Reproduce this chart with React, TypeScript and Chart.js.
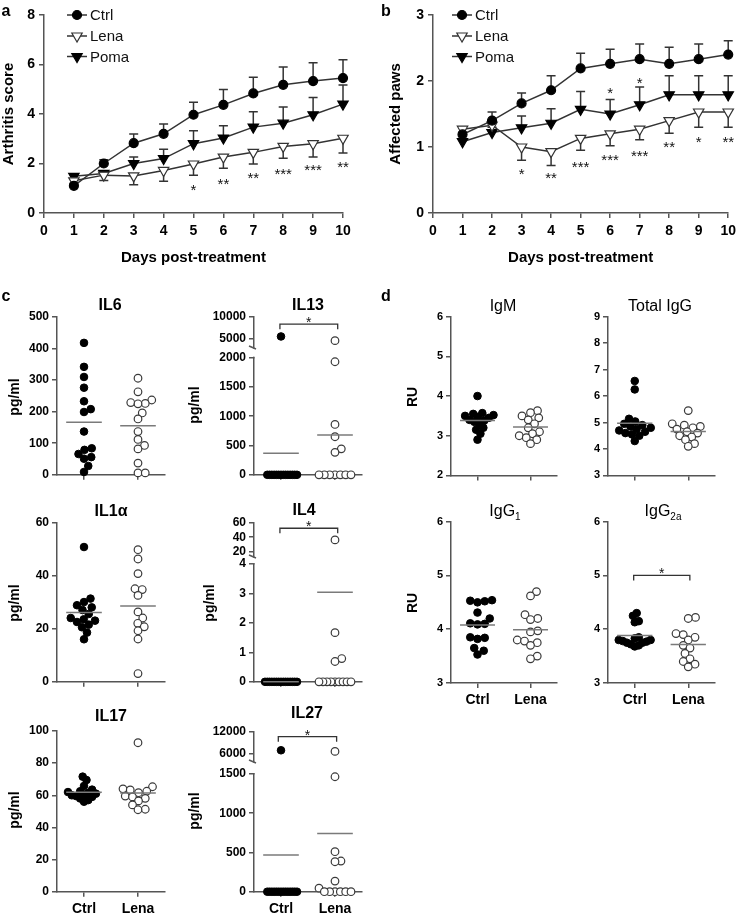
import React, { useEffect, useRef } from 'react';
import { Chart, registerables } from 'chart.js';
Chart.register(...registerables);

const FONT = '"Liberation Sans", Arial, Helvetica, sans-serif';
const AXIS = '#555555';
const LINE = '#333333';

// ---------------- Panel a / b data ----------------
const days = [1, 2, 3, 4, 5, 6, 7, 8, 9, 10];
const dayTicks = [0, 1, 2, 3, 4, 5, 6, 7, 8, 9, 10];

const aTicks = [0, 2, 4, 6, 8];
const aCtrl = [1.1, 2.0, 2.82, 3.2, 3.97, 4.37, 4.83, 5.18, 5.33, 5.45];
const aCtrlErr = [0.06, 0.15, 0.37, 0.4, 0.5, 0.62, 0.65, 0.72, 0.74, 0.74];
const aLena = [1.3, 1.53, 1.5, 1.72, 1.98, 2.26, 2.45, 2.69, 2.8, 3.02];
const aLenaErr = [0.1, 0.22, 0.36, 0.44, 0.45, 0.45, 0.47, 0.48, 0.54, 0.6];
const aPoma = [1.48, 1.6, 2.0, 2.2, 2.8, 3.03, 3.47, 3.63, 3.97, 4.4];
const aPomaErr = [0.08, 0.1, 0.26, 0.38, 0.52, 0.5, 0.62, 0.65, 0.7, 0.77];
const aStarText = ['', '', '', '', '*', '**', '**', '***', '***', '**'];
const aStarY = [0, 0, 0, 0, 1.09, 1.33, 1.54, 1.7, 1.86, 2.02];

const bTicks = [0, 1, 2, 3];
const bCtrl = [1.19, 1.4, 1.66, 1.86, 2.19, 2.26, 2.33, 2.26, 2.33, 2.4];
const bCtrlErr = [0.1, 0.13, 0.16, 0.22, 0.23, 0.22, 0.23, 0.25, 0.23, 0.21];
const bLena = [1.27, 1.33, 1.0, 0.93, 1.13, 1.2, 1.27, 1.4, 1.53, 1.53];
const bLenaErr = [0.05, 0.07, 0.2, 0.21, 0.18, 0.18, 0.16, 0.19, 0.23, 0.23];
const bPoma = [1.08, 1.22, 1.29, 1.36, 1.57, 1.5, 1.64, 1.79, 1.79, 1.79];
const bPomaErr = [0.05, 0.08, 0.18, 0.22, 0.27, 0.22, 0.27, 0.29, 0.29, 0.29];
const bStarText = ['', '', '*', '**', '***', '***', '***', '**', '*', '**'];
const bStarY = [0, 0, 0.64, 0.58, 0.75, 0.86, 0.92, 1.05, 1.13, 1.13];
const bPomaStarText = ['', '', '', '', '', '*', '*', '', '', ''];
const bPomaStarY = [0, 0, 0, 0, 0, 1.87, 2.03, 0, 0, 0];

const seriesNames = ['Ctrl', 'Lena', 'Poma'];
const groupNames = ['Ctrl', 'Lena'];

// ---------------- Panel c data (pg/ml) ----------------
const il6Ticks = [0, 100, 200, 300, 400, 500];
const il6Ctrl = [418, 342, 310, 276, 233, 208, 199, 137, 84, 79, 66, 56, 51, 28, 9];
const il6Lena = [306, 263, 237, 229, 226, 225, 196, 177, 137, 112, 93, 82, 37, 6, 6];

const il13LowTicks = [0, 500, 1000, 1500, 2000];
const il13HighTicks = [5000, 10000];
const il13Ctrl = [5500, 0, 0, 0, 0, 0, 0, 0, 0, 0, 0, 0, 0, 0, 0];
const il13Lena = [4550, 1930, 860, 650, 443, 383, 0, 0, 0, 0, 0, 0, 0];

const il1aTicks = [0, 20, 40, 60];
const il1aCtrl = [50.7, 31.3, 30, 28.8, 28, 27, 25.5, 24, 23.5, 23, 22.5, 21.5, 20.5, 18.5, 16];
const il1aLena = [49.7, 46.2, 40.7, 35, 34.7, 32.5, 26.3, 24, 22, 20.7, 19.2, 16.1, 3.1];

const il4LowTicks = [0, 1, 2, 3, 4];
const il4HighTicks = [20, 40, 60];
const il4Ctrl = [0, 0, 0, 0, 0, 0, 0, 0, 0, 0, 0, 0, 0, 0, 0];
const il4Lena = [36.4, 1.67, 0.79, 0.69, 0, 0, 0, 0, 0, 0, 0, 0, 0];

const il17Ticks = [0, 20, 40, 60, 80, 100];
const il17Ctrl = [71.6, 69.5, 65.8, 63.5, 62.5, 62, 61.5, 61, 60.5, 60, 59.5, 59, 58, 57, 56];
const il17Lena = [92.7, 65.3, 64, 63.3, 62.5, 61.6, 59.5, 59, 58.1, 56.5, 54, 51.3, 51];

const il27LowTicks = [0, 500, 1000, 1500];
const il27HighTicks = [6000, 12000];
const il27Ctrl = [7000, 0, 0, 0, 0, 0, 0, 0, 0, 0, 0, 0, 0, 0, 0];
const il27Lena = [6700, 1465, 510, 391, 382, 135, 45, 0, 0, 0, 0, 0, 0];

// ---------------- Panel d data (RU) ----------------
const igmTicks = [2, 3, 4, 5, 6];
const igmCtrl = [4.0, 3.57, 3.55, 3.52, 3.5, 3.48, 3.45, 3.4, 3.38, 3.35, 3.3, 3.2, 3.15, 3.05, 2.9];
const igmLena = [3.63, 3.58, 3.5, 3.45, 3.4, 3.3, 3.2, 3.1, 3.05, 3.0, 2.95, 2.9, 2.8];

const iggTicks = [3, 4, 5, 6, 7, 8, 9];
const iggCtrl = [6.57, 6.25, 5.14, 5.04, 4.95, 4.9, 4.85, 4.8, 4.75, 4.7, 4.65, 4.6, 4.55, 4.5, 4.3];
const iggLena = [5.45, 4.95, 4.9, 4.85, 4.8, 4.75, 4.65, 4.6, 4.5, 4.45, 4.35, 4.2, 4.1];

const igg1Ticks = [3, 4, 5, 6];
const igg1Ctrl = [4.54, 4.53, 4.52, 4.5, 4.31, 4.2, 4.11, 4.1, 4.09, 3.85, 3.84, 3.82, 3.65, 3.6, 3.53];
const igg1Lena = [4.7, 4.62, 4.27, 4.2, 4.18, 3.97, 3.95, 3.8, 3.78, 3.75, 3.7, 3.5, 3.45];

const igg2aTicks = [3, 4, 5, 6];
const igg2aCtrl = [4.3, 4.25, 4.15, 4.13, 3.85, 3.83, 3.8, 3.8, 3.78, 3.77, 3.75, 3.75, 3.72, 3.7, 3.68];
const igg2aLena = [4.22, 4.2, 3.92, 3.9, 3.85, 3.8, 3.7, 3.65, 3.55, 3.45, 3.4, 3.35, 3.3];

// ---------------- helpers ----------------
const bold = (size: number) => ({ family: FONT, size, weight: 'bold' as const });
const mean = (a: number[]) => a.reduce((s, v) => s + v, 0) / a.length;

function drawMarker(ctx: CanvasRenderingContext2D, shape: string, x: number, y: number, r: number, fill: string) {
  ctx.save();
  ctx.beginPath();
  if (shape === 'circle') {
    ctx.arc(x, y, r, 0, Math.PI * 2);
  } else {
    let rad = Math.PI;
    ctx.moveTo(x + Math.sin(rad) * r, y - Math.cos(rad) * r);
    rad += (2 * Math.PI) / 3;
    ctx.lineTo(x + Math.sin(rad) * r, y - Math.cos(rad) * r);
    rad += (2 * Math.PI) / 3;
    ctx.lineTo(x + Math.sin(rad) * r, y - Math.cos(rad) * r);
    ctx.closePath();
  }
  ctx.fillStyle = fill;
  ctx.fill();
  ctx.strokeStyle = fill === '#ffffff' ? '#333333' : '#000000';
  ctx.lineWidth = 1.2;
  ctx.stroke();
  ctx.restore();
}

type TextItem = { x: number; y: number; text: string; font: string; rotate?: boolean };

function decoPlugin(d: any) {
  return {
    id: 'deco',
    beforeDatasetsDraw(chart: any) {
      const ctx = chart.ctx as CanvasRenderingContext2D;
      if (d.brk) {
        const ys = chart.scales.y;
        const ax = ys.right;
        ctx.save();
        ctx.fillStyle = '#ffffff';
        ctx.fillRect(ax - 8, d.brk + 1.5, 12, ys.top - d.brk - 2.5);
        ctx.strokeStyle = AXIS;
        ctx.lineWidth = 1.5;
        ctx.beginPath();
        ctx.moveTo(ax - 5, d.brk - 1);
        ctx.lineTo(ax + 2, d.brk + 2);
        ctx.stroke();
        ctx.restore();
      }
      if (d.err) {
        const ys = chart.scales.y;
        ctx.save();
        ctx.strokeStyle = LINE;
        ctx.lineWidth = 1.5;
        for (const e of d.err) {
          const meta = chart.getDatasetMeta(e.ds);
          const vals = chart.data.datasets[e.ds].data;
          meta.data.forEach((el: any, i: number) => {
            const er = e.err[i];
            if (!er) return;
            const y1 = ys.getPixelForValue(vals[i].y + e.dir * er);
            ctx.beginPath();
            ctx.moveTo(el.x, el.y);
            ctx.lineTo(el.x, y1);
            ctx.moveTo(el.x - 4.5, y1);
            ctx.lineTo(el.x + 4.5, y1);
            ctx.stroke();
          });
        }
        ctx.restore();
      }
    },
    afterDatasetsDraw(chart: any) {
      const ctx = chart.ctx as CanvasRenderingContext2D;
      ctx.save();
      if (d.stars) {
        ctx.fillStyle = '#111';
        ctx.font = `15px ${FONT}`;
        ctx.textAlign = 'center';
        ctx.textBaseline = 'alphabetic';
        for (const s of d.stars) {
          if (!s.text) continue;
          const px = chart.scales.x.getPixelForValue(s.x);
          const py = chart.scales.y.getPixelForValue(s.y);
          ctx.fillText(s.text, px, py + 8.5);
        }
      }
      if (d.bracket) {
        const b = d.bracket;
        const py = chart.scales[b.axis].getPixelForValue(b.value);
        const x1 = chart.scales.x.getPixelForValue(b.x1);
        const x2 = chart.scales.x.getPixelForValue(b.x2);
        ctx.strokeStyle = LINE;
        ctx.lineWidth = 1.3;
        ctx.beginPath();
        ctx.moveTo(x1, py + 5);
        ctx.lineTo(x1, py);
        ctx.lineTo(x2, py);
        ctx.lineTo(x2, py + 5);
        ctx.stroke();
        ctx.fillStyle = '#111';
        ctx.font = `14px ${FONT}`;
        ctx.textAlign = 'center';
        ctx.textBaseline = 'alphabetic';
        ctx.fillText('*', (x1 + x2) / 2, py + 3);
      }
      if (d.legend) {
        const lg = d.legend;
        lg.rows.forEach((r: any) => {
          ctx.strokeStyle = LINE;
          ctx.lineWidth = 1.5;
          ctx.beginPath();
          ctx.moveTo(lg.x1, r.y);
          ctx.lineTo(lg.x2, r.y);
          ctx.stroke();
          drawMarker(ctx, r.shape, (lg.x1 + lg.x2) / 2, r.y, r.shape === 'circle' ? 4.5 : 6, r.fill);
          ctx.fillStyle = '#111';
          ctx.font = `15px ${FONT}`;
          ctx.textAlign = 'left';
          ctx.textBaseline = 'middle';
          ctx.fillText(r.label, lg.tx, r.y + 1);
        });
      }
      if (d.texts) {
        for (const t of d.texts as TextItem[]) {
          ctx.save();
          ctx.fillStyle = '#000';
          ctx.font = t.font;
          ctx.textAlign = 'center';
          ctx.textBaseline = 'middle';
          ctx.translate(t.x, t.y);
          if (t.rotate) ctx.rotate(-Math.PI / 2);
          ctx.fillText(t.text, 0, 0);
          ctx.restore();
        }
      }
      ctx.restore();
    },
  };
}

const axisGrid = { display: true, drawOnChartArea: false, drawTicks: true, tickLength: 5, color: AXIS, lineWidth: 1.5 };
const axisBorder = { display: true, color: AXIS, width: 1.5 };

// ---------------- line chart (a, b) ----------------
type Box = { left: number; top: number; width: number; height: number; aL: number; aR: number; aT: number; aB: number };

function buildLine(canvas: HTMLCanvasElement, p: any): Chart {
  const L: Box = p.box;
  const yW = L.aL - L.left;
  const xH = L.top + L.height - L.aB;
  const pts = (arr: number[]) => days.map((dd, i) => ({ x: dd, y: arr[i] }));
  const stars: any[] = [];
  p.starText.forEach((t: string, i: number) => stars.push({ x: days[i], y: p.starY[i], text: t }));
  if (p.star2Text) p.star2Text.forEach((t: string, i: number) => stars.push({ x: days[i], y: p.star2Y[i], text: t }));
  const deco = decoPlugin({
    err: [
      { ds: 0, err: p.ctrlErr, dir: 1 },
      { ds: 1, err: p.lenaErr, dir: -1 },
      { ds: 2, err: p.pomaErr, dir: 1 },
    ],
    stars,
    legend: {
      x1: p.legX1 - L.left,
      x2: p.legX2 - L.left,
      tx: p.legTx - L.left,
      rows: [
        { y: 15 - L.top, label: seriesNames[0], shape: 'circle', fill: '#000000' },
        { y: 36 - L.top, label: seriesNames[1], shape: 'tri', fill: '#ffffff' },
        { y: 56.5 - L.top, label: seriesNames[2], shape: 'tri', fill: '#000000' },
      ],
    },
  });
  const common = { borderColor: LINE, borderWidth: 1.5, tension: 0, clip: false as const, pointBorderWidth: 1.2 };
  const cfg: any = {
    type: 'line',
    data: {
      datasets: [
        { ...common, label: seriesNames[0], data: pts(p.ctrl), pointStyle: 'circle', pointRadius: 4.5, pointBackgroundColor: '#000', pointBorderColor: '#000' },
        { ...common, label: seriesNames[1], data: pts(p.lena), pointStyle: 'triangle', pointRotation: 180, pointRadius: 6, pointBackgroundColor: '#ffffff', pointBorderColor: '#333' },
        { ...common, label: seriesNames[2], data: pts(p.poma), pointStyle: 'triangle', pointRotation: 180, pointRadius: 6, pointBackgroundColor: '#000', pointBorderColor: '#000' },
      ],
    },
    options: {
      animation: false,
      responsive: false,
      devicePixelRatio: 1,
      events: [],
      layout: { padding: { left: 0, top: L.aT - L.top, right: L.left + L.width - L.aR, bottom: 0 } },
      plugins: { legend: { display: false }, tooltip: { enabled: false } },
      scales: {
        x: {
          type: 'linear',
          min: 0,
          max: 10,
          afterBuildTicks: (s: any) => { s.ticks = dayTicks.map((v) => ({ value: v })); },
          afterFit: (s: any) => { s.height = xH; },
          ticks: { callback: (v: any) => String(v), font: bold(14), color: '#000', padding: 5, autoSkip: false, maxRotation: 0 },
          grid: axisGrid,
          border: axisBorder,
          title: { display: true, text: 'Days post-treatment', font: bold(15), color: '#000', padding: { top: 0, bottom: 5 } },
        },
        y: {
          type: 'linear',
          min: p.yMin,
          max: p.yMax,
          afterBuildTicks: (s: any) => { s.ticks = p.yTicks.map((v: number) => ({ value: v })); },
          afterFit: (s: any) => { s.width = yW; },
          ticks: { callback: (v: any) => String(v), font: bold(14), color: '#000', padding: 4, autoSkip: false },
          grid: axisGrid,
          border: axisBorder,
          title: { display: true, text: p.yTitle, font: bold(15), color: '#000', padding: { top: p.yTitlePad, bottom: 0 } },
        },
      },
    },
    plugins: [deco],
  };
  return new Chart(canvas, cfg);
}

// ---------------- scatter (c, d) ----------------
const R = 3.8;
const MAX_HALF = 16;

function swarm(py: number[], vals: number[], r: number, maxHalf: number): number[] {
  const n = py.length;
  const counts = new Map<number, number>();
  vals.forEach((v) => counts.set(v, (counts.get(v) || 0) + 1));
  const order = py.map((_, i) => i).sort((a, b) => py[b] - py[a] || a - b);
  const off = new Array(n).fill(0);
  const placed: number[] = [];
  for (const i of order) {
    let chosen = 0;
    for (let k = 0; k < 4000; k++) {
      const c = k === 0 ? 0 : (k % 2 === 1 ? 1 : -1) * Math.ceil(k / 2) * 0.25;
      let ok = true;
      for (const j of placed) {
        const cnt = counts.get(vals[i]) || 1;
        const need = vals[j] === vals[i] && cnt > 2 ? Math.min(2 * r, (2 * maxHalf) / (cnt - 1)) : 2 * r * 0.95;
        const dx = c - off[j];
        const dy = py[i] - py[j];
        if (dx * dx + dy * dy < need * need - 0.01) { ok = false; break; }
      }
      if (ok) { chosen = c; break; }
    }
    off[i] = chosen;
    placed.push(i);
  }
  const m = Math.max(...off.map((o) => Math.abs(o)));
  if (m > maxHalf) {
    const f = maxHalf / m;
    for (let i = 0; i < n; i++) off[i] *= f;
  }
  return off;
}

function buildScatter(canvas: HTMLCanvasElement, s: any): Chart {
  const L: Box = s.box;
  const yW = L.aL - L.left;
  const xH = L.top + L.height - L.aB;
  const hasU = !!s.upper;
  const joinY = hasU ? s.upper.joinY : L.aT;
  const tickFont = s.tickFont || 12;
  const texts: TextItem[] = [];
  if (s.yTitle) texts.push({ x: s.yTitle.x - L.left, y: s.yTitle.y - L.top, text: s.yTitle.text, font: `bold ${s.yTitle.size || 14}px ${FONT}`, rotate: true });
  const deco = decoPlugin({
    brk: hasU ? s.upper.breakY - L.top : undefined,
    bracket: s.bracket,
    texts,
  });
  const ptsBase = { type: 'scatter', clip: false, pointRadius: R, pointHoverRadius: R, order: 2, showLine: false };
  const filled = { ...ptsBase, pointBackgroundColor: '#000000', pointBorderColor: '#000000', pointBorderWidth: 1 };
  const open = { ...ptsBase, pointBackgroundColor: '#ffffff', pointBorderColor: '#3a3a3a', pointBorderWidth: 1.2 };
  const mc = mean(s.ctrl);
  const ml = mean(s.lena);
  const meanLine = { type: 'line', showLine: true, pointRadius: 0, borderColor: '#7a7a7a', borderWidth: 1.5, order: 0, yAxisID: 'y', clip: false };
  const scales: any = {
    x: {
      type: 'linear',
      min: 0.5,
      max: 2.5,
      afterBuildTicks: (sc: any) => { sc.ticks = [{ value: 1 }, { value: 2 }]; },
      afterFit: (sc: any) => { sc.height = xH; },
      ticks: { callback: (v: any) => (s.xLabels ? groupNames[v - 1] : ''), font: bold(14), color: '#000', padding: 4, autoSkip: false, maxRotation: 0 },
      grid: axisGrid,
      border: axisBorder,
    },
    y: {
      type: 'linear',
      position: 'left',
      min: s.lower.min,
      max: s.lower.max,
      weight: 0,
      afterBuildTicks: (sc: any) => { sc.ticks = s.lower.ticks.map((v: number) => ({ value: v })); },
      afterFit: (sc: any) => { sc.width = yW; },
      ticks: { callback: (v: any) => String(v), font: bold(tickFont), color: '#000', padding: 3, autoSkip: false },
      grid: axisGrid,
      border: axisBorder,
    },
  };
  if (hasU) {
    scales.y.stack = 'brk';
    scales.y.stackWeight = L.aB - joinY;
    scales.yU = {
      type: 'linear',
      position: 'left',
      stack: 'brk',
      stackWeight: joinY - L.aT,
      weight: 1,
      min: s.upper.min,
      max: s.upper.max,
      afterBuildTicks: (sc: any) => { sc.ticks = s.upper.ticks.map((v: number) => ({ value: v })); },
      afterFit: (sc: any) => { sc.width = yW; },
      ticks: { callback: (v: any) => String(v), font: bold(tickFont), color: '#000', padding: 3, autoSkip: false },
      grid: axisGrid,
      border: axisBorder,
    };
  }
  const uId = hasU ? 'yU' : 'y';
  const cfg: any = {
    type: 'scatter',
    data: {
      datasets: [
        { ...filled, label: 'Ctrl', yAxisID: 'y', data: [] },
        { ...filled, label: 'Ctrl+', yAxisID: uId, data: [] },
        { ...open, label: 'Lena', yAxisID: 'y', data: [] },
        { ...open, label: 'Lena+', yAxisID: uId, data: [] },
        { ...meanLine, label: 'mean Ctrl', data: [{ x: 1 - 0.33, y: mc }, { x: 1 + 0.33, y: mc }] },
        { ...meanLine, label: 'mean Lena', data: [{ x: 2 - 0.33, y: ml }, { x: 2 + 0.33, y: ml }] },
      ],
    },
    options: {
      animation: false,
      responsive: false,
      devicePixelRatio: 1,
      events: [],
      layout: { padding: { left: 0, top: L.aT - L.top, right: L.left + L.width - L.aR, bottom: 0 } },
      plugins: { legend: { display: false }, tooltip: { enabled: false } },
      scales,
    },
    plugins: [deco],
  };
  const chart = new Chart(canvas, cfg);
  const xs: any = chart.scales.x;
  const unit = xs.getPixelForValue(2) - xs.getPixelForValue(1);
  const groups: [number[], number, number, number][] = [
    [s.ctrl, 1, 0, 1],
    [s.lena, 2, 2, 3],
  ];
  for (const [vals, c, iLo, iHi] of groups) {
    const axes = vals.map((v) => (hasU && v > s.lower.max ? 'yU' : 'y'));
    const py = vals.map((v, i) => (chart.scales as any)[axes[i]].getPixelForValue(v));
    const off = swarm(py, vals, R, MAX_HALF);
    const lo: any[] = [];
    const hi: any[] = [];
    vals.forEach((v, i) => (axes[i] === 'y' ? lo : hi).push({ x: c + off[i] / unit, y: v }));
    chart.data.datasets[iLo].data = lo;
    chart.data.datasets[iHi].data = hi;
  }
  chart.update('none');
  return chart;
}

// ---------------- specs ----------------
const panelA = {
  box: { left: 0, top: 0, width: 370, height: 272, aL: 44, aR: 343, aT: 15, aB: 213 },
  yMin: 0, yMax: 8, yTicks: aTicks, yTitle: 'Arthritis score', yTitlePad: 0,
  ctrl: aCtrl, ctrlErr: aCtrlErr, lena: aLena, lenaErr: aLenaErr, poma: aPoma, pomaErr: aPomaErr,
  starText: aStarText, starY: aStarY,
  legX1: 67, legX2: 87, legTx: 90,
};
const panelB = {
  box: { left: 370, top: 0, width: 371, height: 272, aL: 433, aR: 730, aT: 15, aB: 213 },
  yMin: 0, yMax: 3, yTicks: bTicks, yTitle: 'Affected paws', yTitlePad: 17,
  ctrl: bCtrl, ctrlErr: bCtrlErr, lena: bLena, lenaErr: bLenaErr, poma: bPoma, pomaErr: bPomaErr,
  starText: bStarText, starY: bStarY, star2Text: bPomaStarText, star2Y: bPomaStarY,
  legX1: 452, legX2: 472, legTx: 475,
};

const C1 = { left: 0, width: 178, aL: 57, aR: 165 };
const C2 = { left: 180, width: 192, aL: 254, aR: 362 };
const D1 = { left: 378, width: 185, aL: 451, aR: 557 };
const D2 = { left: 565, width: 176, aL: 608, aR: 715 };

const scatterSpecs: any[] = [
  {
    key: 'il6', box: { ...C1, top: 290, height: 195, aT: 317, aB: 478 },
    lower: { min: 0, max: 500, ticks: il6Ticks }, ctrl: il6Ctrl, lena: il6Lena,
    yTitle: { text: 'pg/ml', x: 15, y: 397 }, xLabels: false,
  },
  {
    key: 'il13', box: { ...C2, top: 290, height: 195, aT: 316.7, aB: 477.3 },
    lower: { min: 0, max: 2000, ticks: il13LowTicks },
    upper: { min: 673, max: 10000, ticks: il13HighTicks, joinY: 358.3, breakY: 347 },
    ctrl: il13Ctrl, lena: il13Lena,
    yTitle: { text: 'pg/ml', x: 195, y: 405 }, xLabels: false,
    bracket: { axis: 'yU', value: 8300, x1: 0.98, x2: 2.05 },
  },
  {
    key: 'il1a', box: { ...C1, top: 492, height: 200, aT: 522.3, aB: 683.3 },
    lower: { min: 0, max: 60, ticks: il1aTicks }, ctrl: il1aCtrl, lena: il1aLena,
    yTitle: { text: 'pg/ml', x: 15, y: 603 }, xLabels: false,
  },
  {
    key: 'il4', box: { ...C2, top: 492, height: 200, aT: 522.3, aB: 682.7 },
    lower: { min: 0, max: 4, ticks: il4LowTicks },
    upper: { min: 4, max: 60, ticks: il4HighTicks, joinY: 564.3, breakY: 556 },
    ctrl: il4Ctrl, lena: il4Lena,
    yTitle: { text: 'pg/ml', x: 210, y: 603 }, xLabels: false,
    bracket: { axis: 'yU', value: 52, x1: 0.98, x2: 2.05 },
  },
  {
    key: 'il17', box: { ...C1, top: 700, height: 218, aT: 731, aB: 891.7 },
    lower: { min: 0, max: 100, ticks: il17Ticks }, ctrl: il17Ctrl, lena: il17Lena,
    yTitle: { text: 'pg/ml', x: 15, y: 810 }, xLabels: true,
  },
  {
    key: 'il27', box: { ...C2, top: 700, height: 218, aT: 731.7, aB: 891.7 },
    lower: { min: 0, max: 1500, ticks: il27LowTicks },
    upper: { min: 619, max: 12000, ticks: il27HighTicks, joinY: 774, breakY: 761 },
    ctrl: il27Ctrl, lena: il27Lena,
    yTitle: { text: 'pg/ml', x: 195, y: 811 }, xLabels: true,
    bracket: { axis: 'yU', value: 10650, x1: 0.95, x2: 2.03 },
  },
  {
    key: 'igm', box: { ...D1, top: 290, height: 195, aT: 316.7, aB: 478.3 },
    lower: { min: 2, max: 6, ticks: igmTicks }, ctrl: igmCtrl, lena: igmLena,
    yTitle: { text: 'RU', x: 413, y: 397 }, xLabels: false, tickFont: 11,
  },
  {
    key: 'igg', box: { ...D2, top: 290, height: 195, aT: 316.7, aB: 478.3 },
    lower: { min: 3, max: 9, ticks: iggTicks }, ctrl: iggCtrl, lena: iggLena,
    xLabels: false, tickFont: 11,
  },
  {
    key: 'igg1', box: { ...D1, top: 495, height: 215, aT: 521.7, aB: 683 },
    lower: { min: 3, max: 6, ticks: igg1Ticks }, ctrl: igg1Ctrl, lena: igg1Lena,
    yTitle: { text: 'RU', x: 413, y: 603 }, xLabels: true, tickFont: 11,
  },
  {
    key: 'igg2a', box: { ...D2, top: 495, height: 215, aT: 521.7, aB: 683 },
    lower: { min: 3, max: 6, ticks: igg2aTicks }, ctrl: igg2aCtrl, lena: igg2aLena,
    xLabels: true, tickFont: 11,
    bracket: { axis: 'y', value: 5.0, x1: 0.98, x2: 2.03 },
  },
];

// ---------------- components ----------------
function ChartCanvas({ box, build }: { box: Box; build: (c: HTMLCanvasElement) => Chart }) {
  const ref = useRef<HTMLCanvasElement>(null);
  useEffect(() => {
    const chart = build(ref.current as HTMLCanvasElement);
    return () => chart.destroy();
  }, []);
  return (
    <canvas
      ref={ref}
      width={box.width}
      height={box.height}
      style={{ position: 'absolute', left: box.left, top: box.top, width: box.width, height: box.height }}
    />
  );
}

function Label({ x, y, size, weight, children }: any) {
  return (
    <div
      style={{
        position: 'absolute', left: x, top: y, transform: 'translate(-50%, -50%)',
        fontFamily: FONT, fontSize: size, fontWeight: weight || 'bold', whiteSpace: 'nowrap', lineHeight: 1, color: '#000',
      }}
    >
      {children}
    </div>
  );
}

export default function App() {
  const subStyle = { fontSize: 10, verticalAlign: 'sub', lineHeight: 0 } as any;
  return (
    <div style={{ position: 'absolute', left: 0, top: 0, width: 741, height: 918, background: '#fff', overflow: 'hidden' }}>
      <ChartCanvas box={panelA.box} build={(c) => buildLine(c, panelA)} />
      <ChartCanvas box={panelB.box} build={(c) => buildLine(c, panelB)} />
      {scatterSpecs.map((s) => (
        <ChartCanvas key={s.key} box={s.box} build={(c) => buildScatter(c, s)} />
      ))}
      <Label x={6} y={11} size={16}>a</Label>
      <Label x={386} y={11} size={16}>b</Label>
      <Label x={6} y={296} size={16}>c</Label>
      <Label x={386} y={296} size={16}>d</Label>
      <Label x={110} y={305} size={16}>IL6</Label>
      <Label x={308} y={305} size={16}>IL13</Label>
      <Label x={111} y={511} size={16}>IL1α</Label>
      <Label x={304} y={510} size={16}>IL4</Label>
      <Label x={111} y={716} size={16}>IL17</Label>
      <Label x={307} y={713} size={16}>IL27</Label>
      <Label x={503} y={306} size={16} weight="normal">IgM</Label>
      <Label x={660} y={306} size={16} weight="normal">Total IgG</Label>
      <Label x={505} y={511} size={16} weight="normal">IgG<span style={subStyle}>1</span></Label>
      <Label x={663} y={511} size={16} weight="normal">IgG<span style={subStyle}>2a</span></Label>
    </div>
  );
}
